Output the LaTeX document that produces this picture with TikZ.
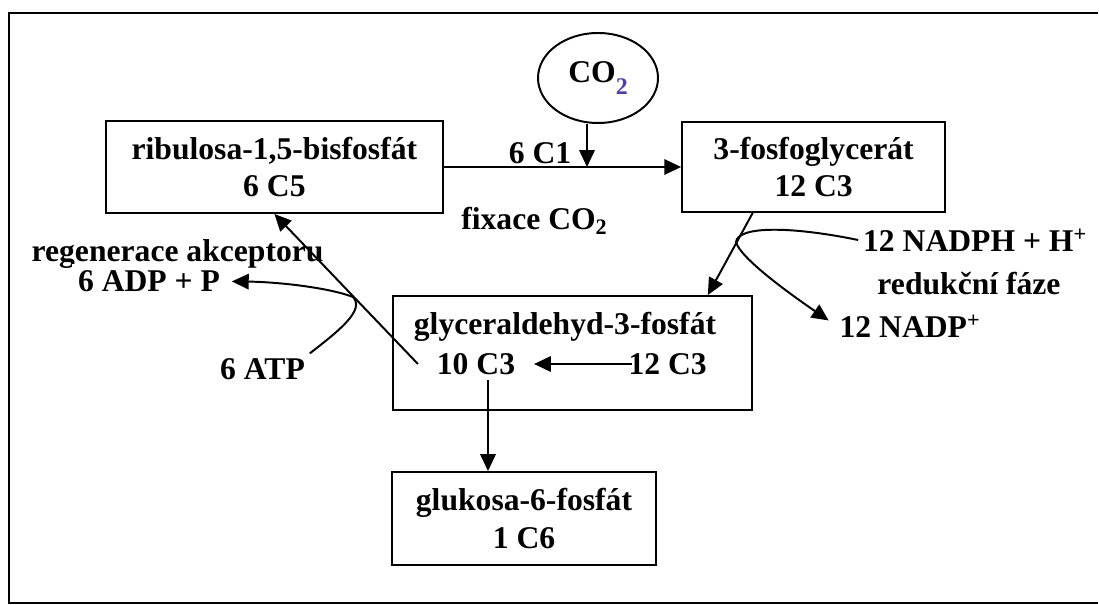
\documentclass[tikz,border=0pt]{standalone}
\usepackage{fontspec}
\setmainfont{Liberation Serif}
\usetikzlibrary{calc,arrows.meta,shapes.geometric}
\definecolor{subblue}{RGB}{70,60,200}

\begin{document}
\begin{tikzpicture}[
  font=\fontsize{22.5}{26.5}\selectfont\bfseries,
  box/.style={draw,line width=1.4pt,align=center,inner sep=0pt},
  arr/.style={-{Triangle[length=12pt,width=11pt]},line width=1.4pt}
]
\fill[white] (0,0) rectangle (27.475,15.125);
\useasboundingbox (0,0) rectangle (27.475,15.125);

% ---- page frame, open on the right ----
\draw[line width=1.5pt] (27.44,14.8) -- (0.225,14.8) -- (0.225,0.05) -- (27.44,0.05);

% ---- the four pools of the cycle ----
\node[box,minimum width=8.425cm,minimum height=2.3cm] (rubp) at (6.86,10.95)
  {ribulosa-1,5-bisfosfát\\6 C5};
\node[box,minimum width=6.575cm,minimum height=2.25cm] (pga) at (20.34,10.95)
  {3-fosfoglycerát\\12 C3};
\node[box,minimum width=8.975cm,minimum height=2.85cm] (gap) at (14.3125,6.3) {};
\node[anchor=base] (gapname) at (14.125,6.75) {glyceraldehyd-3-fosfát};
\node (c10) at (11.9,6.025) {10 C3};
\node (c12) at (16.69,6.025) {12 C3};
\node[box,minimum width=6.6cm,minimum height=2.325cm] (glc) at (13.1,2.1625)
  {glukosa-6-fosfát\\1 C6};

% ---- CO2 entering the fixation step ----
\node[draw,ellipse,line width=1.4pt,minimum width=3cm,minimum height=2.25cm,inner sep=0pt]
  (co2) at (14.95,13.175) {CO\raisebox{-0.35em}{\color{subblue}\fontsize{17}{17}\selectfont 2}};
\coordinate (join) at (14.675,10.95);
\node (c1) at (13.5,11.3) {6 C1};
\node (fix) at (13.36,9.6) {fixace CO\textsubscript{2}};

% ---- regeneration side ----
\node[anchor=base] (regen) at (4.44,8.575) {regenerace akceptoru};
\node[fill=white,inner xsep=4pt,inner ysep=5pt] (adp) at (3.725,8.09) {6 ADP + P};
\node (atp) at (6.5625,5.9) {6 ATP};

% ---- reduction side ----
\node[anchor=base] (nadph) at (24.375,8.825) {12 NADPH + H\textsuperscript{+}};
\node[anchor=base] (reduk) at (24.225,7.75) {redukční fáze};
\node[anchor=base] (nadpp) at (22.75,6.675) {12 NADP\textsuperscript{+}};

% ---- connectors ----
\draw[arr] (rubp.east) -- (pga.west);
\draw[arr] (co2.south -| join) -- (join);
\draw[arr] ($(pga.south west)!0.27!(pga.south east)$) -- ($(gap.north west)!0.875!(gap.north east)$);
\draw[arr] (nadph.west |- 0,9.125) .. controls (19.75,9.475) and (18.45,9.475) .. (18.4,9.075)
  .. controls (18.5,8.675) and (19.75,7.775) .. ($(nadpp.west)+(-0.15,0.15)$);
\draw[arr,shorten >=0.35cm] ($(c12.west)+(0.2,0)$) -- (c10.east);
\draw[arr] ($(c10.west)+(-0.35,0)$) -- (rubp.south);
\draw[arr] (atp.north east) .. controls (8.5,6.875) and (9.125,7.375) .. (8.825,7.7)
  .. controls (8.25,7.925) and (7.0,8.075) .. ($(adp.east)+(0.15,0)$);
\coordinate (stem) at (12.2,0);
\draw[arr] (c10.south -| stem) -- (glc.north -| stem);

\end{tikzpicture}
\end{document}
